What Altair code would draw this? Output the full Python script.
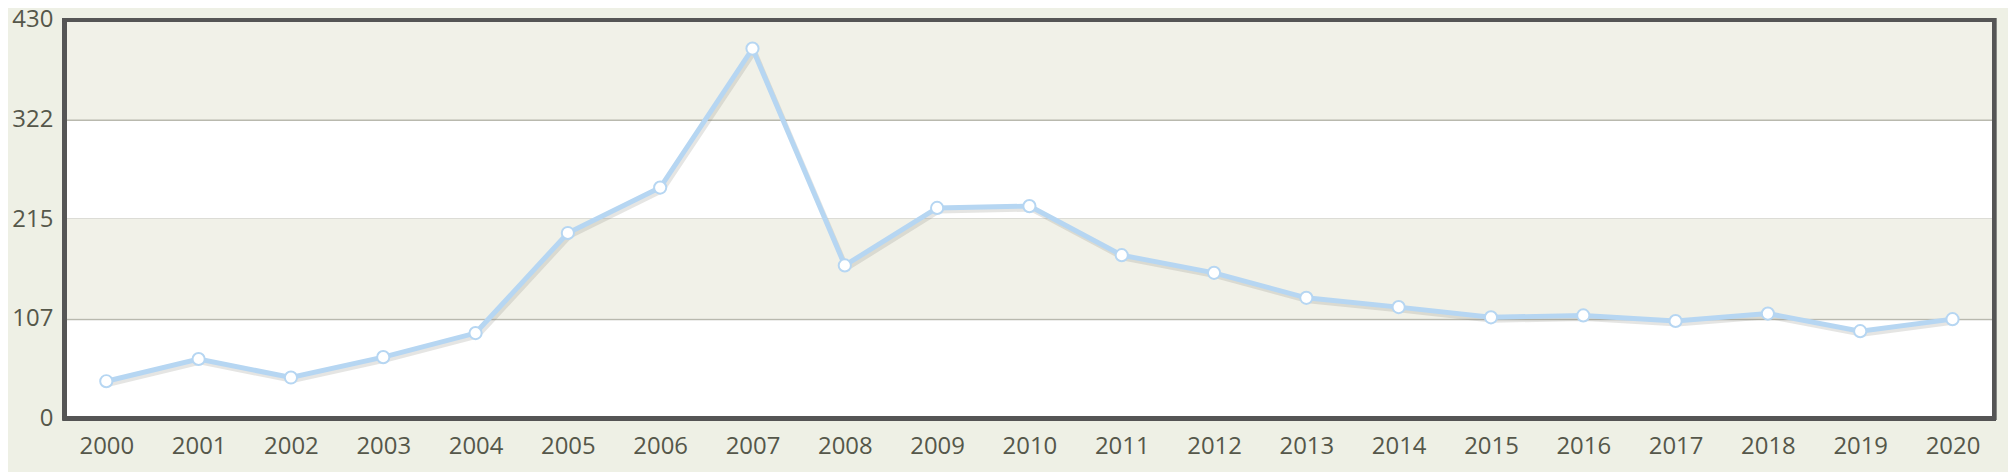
import altair as alt
import pandas as pd

years = [str(y) for y in range(2000, 2021)]
values = [40, 64, 44, 66, 92, 200, 249, 399, 165, 227, 229,
          176, 157, 130, 120, 109, 111, 105, 113, 94, 107]

tick_values = [0, 107.5, 215, 322.5, 430]
band_start = [107.5, 322.5]
band_end = [215, 430]

W, H = 1937, 400

df = pd.DataFrame({"year": years, "value": values})
bands = pd.DataFrame({"y0": band_start, "y1": band_end})

yscale = alt.Scale(domain=[0, 430], nice=False, zero=True)
xscale = alt.Scale(type="point", padding=0.45)

band_layer = alt.Chart(bands).mark_rect(color="#f1f1e8").encode(
    y=alt.Y("y0:Q", scale=yscale,
            axis=alt.Axis(values=tick_values, labelExpr="floor(datum.value)",
                          title=None, domain=False, ticks=False, grid=True,
                          gridColor="#b9b9ae", gridWidth=2, labelPadding=12,
                          labelAlign="right", labelBaseline="middle")),
    y2="y1:Q",
)

shadow = alt.Chart(df).mark_line(color="#8a8a80", strokeWidth=5, opacity=0.22,
                                 xOffset=2, yOffset=3).encode(
    x=alt.X("year:O", scale=xscale),
    y=alt.Y("value:Q", scale=yscale),
)

line = alt.Chart(df).mark_line(color="#b6d6f2", strokeWidth=5).encode(
    x=alt.X("year:O", scale=xscale,
            axis=alt.Axis(title=None, labelAngle=0, domain=False, ticks=False,
                          labelPadding=16, labelAlign="center",
                          labelBaseline="top")),
    y=alt.Y("value:Q", scale=yscale),
)

points = alt.Chart(df).mark_point(filled=True, fill="white", stroke="#b6d6f2",
                                  strokeWidth=2, size=150, opacity=1).encode(
    x=alt.X("year:O", scale=xscale),
    y=alt.Y("value:Q", scale=yscale),
)

frame = alt.Chart(df).mark_rect(fill=None, stroke="#555555", strokeWidth=4).encode(
    x=alt.value(0), x2=alt.value(W), y=alt.value(0), y2=alt.value(H),
)

chart = alt.layer(band_layer, shadow, line, points, frame).properties(
    width=W, height=H,
    autosize=alt.AutoSizeParams(type="none"),
    padding={"left": 57, "top": 11, "right": 14, "bottom": 53},
    background="#eef0e5",
).configure_view(
    fill="white", stroke=None,
).configure_axis(
    labelFont="Open Sans", labelFontSize=24, labelColor="#55574a",
)

chart.save("out.html", embed_options={"renderer": "svg", "actions": False})
